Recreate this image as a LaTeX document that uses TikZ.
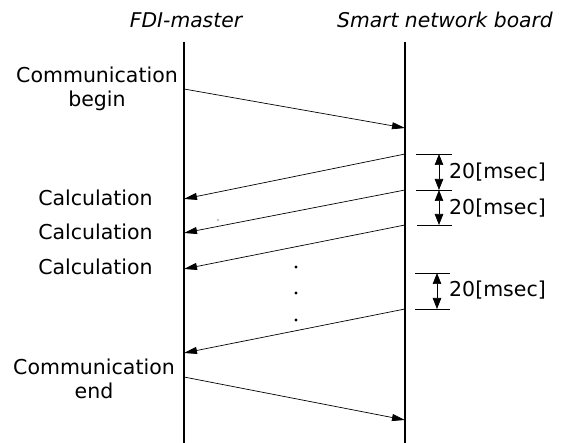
\documentclass[tikz,border=0pt]{standalone}
\usepackage{fontspec}
\setmainfont{DejaVu Sans}
\usetikzlibrary{arrows.meta}
\begin{document}
\begin{tikzpicture}[x=1pt,y=-1pt,
  lifeline/.style={line width=1.6pt},
  msg/.style={line width=0.7pt,-{Triangle[length=13pt,width=7pt]}},
  tickline/.style={line width=0.7pt},
  dimarrow/.style={line width=0.7pt,{Triangle[length=11pt,width=8.5pt]}-{Triangle[length=11pt,width=8.5pt]}},
  lbl/.style={font=\fontsize{20.5}{24.5}\selectfont, inner sep=0pt, align=center},
  hdr/.style={font=\fontsize{20.3}{24}\selectfont\itshape, inner sep=0pt},
  dotmark/.style={fill=black}
]
\useasboundingbox (0,0) rectangle (563,443);

% headers
\node[hdr, anchor=base] (hA) at (186,28) {FDI-master};
\node[hdr, anchor=base] (hB) at (445,28) {Smart network board};

% lifelines
\coordinate (Atop) at (184,42);
\coordinate (Abot) at (184,443);
\coordinate (Btop) at (405,42);
\coordinate (Bbot) at (405,443);
\draw[lifeline] (Atop) -- (Abot);
\draw[lifeline] (Btop) -- (Bbot);

% message end points
\coordinate (A1) at (184,89);   \coordinate (B1) at (405,128);
\coordinate (B2) at (405,154);  \coordinate (A2) at (184,199);
\coordinate (B3) at (405,190);  \coordinate (A3) at (184,233);
\coordinate (B4) at (405,225);  \coordinate (A4) at (184,269);
\coordinate (B5) at (405,309);  \coordinate (A5) at (184,353);
\coordinate (A6) at (184,377);  \coordinate (B6) at (405,420);

\draw[msg] (A1) -- (B1);
\draw[msg] (B2) -- (A2);
\draw[msg] (B3) -- (A3);
\draw[msg] (B4) -- (A4);
\draw[msg] (B5) -- (A5);
\draw[msg] (A6) -- (B6);

% left labels
\node[lbl, anchor=north] (cb) at (97,66.5) {Communication\\begin};
\node[lbl, anchor=base] (c1) at (95.5,206) {Calculation};
\node[lbl, anchor=base] (c2) at (95.5,240) {Calculation};
\node[lbl, anchor=base] (c3) at (95.5,275) {Calculation};
\node[lbl, anchor=north] (ce) at (94,358.5) {Communication\\end};

% dimension ticks
\coordinate (T1a) at (416,154); \coordinate (T1b) at (452,154);
\coordinate (T2a) at (416,190); \coordinate (T2b) at (452,190);
\coordinate (T3a) at (417,225); \coordinate (T3b) at (452,225);
\coordinate (T4a) at (415,273); \coordinate (T4b) at (450,273);
\coordinate (T5a) at (415,309); \coordinate (T5b) at (450,309);
\foreach \t in {1,...,5} {\draw[tickline] (T\t a) -- (T\t b);}

\coordinate (D1a) at (439,154); \coordinate (D1b) at (439,190);
\coordinate (D2a) at (439,190); \coordinate (D2b) at (439,225);
\coordinate (D3a) at (437,273); \coordinate (D3b) at (437,309);
\draw[dimarrow] (D1a) -- (D1b);
\draw[dimarrow] (D2a) -- (D2b);
\draw[dimarrow] (D3a) -- (D3b);

\node[lbl, anchor=base west] (m1) at (449,179) {20[msec]};
\node[lbl, anchor=base west] (m2) at (449,215) {20[msec]};
\node[lbl, anchor=base west] (m3) at (449,297) {20[msec]};

% dots
\fill[dotmark] (296,267) circle (1.6pt);
\fill[dotmark] (296,293) circle (1.6pt);
\fill[dotmark] (296,320) circle (1.6pt);
\fill[dotmark] (218,220) circle (0.7pt);
\end{tikzpicture}
\end{document}
